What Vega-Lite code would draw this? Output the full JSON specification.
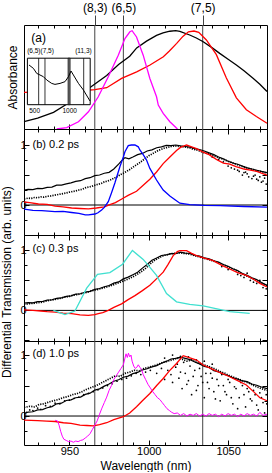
{
"$schema":"https://vega.github.io/schema/vega-lite/v6.json",
"background":"white",
"padding":{"left":0,"top":0,"right":1,"bottom":0},
"spacing":0,
"bounds":"flush",
"config":{"font":"Liberation Sans","view":{"stroke":"black","strokeWidth":1},
 "axis":{"domain":false,"grid":false,"labelFontSize":11,"titleFontSize":12,"titleFontWeight":"normal","tickColor":"black","labelColor":"black","titleColor":"black","labelOverlap":false,"labelFlush":false}},
"datasets":{
"lines":[{"w":966},{"w":984},{"w":1034}],
"aK":[{"w":921.4,"v":0.07},{"w":930,"v":0.105},{"w":940,"v":0.16},{"w":948,"v":0.235},{"w":955,"v":0.3},{"w":963,"v":0.4},{"w":973.5,"v":0.515},{"w":981,"v":0.62},{"w":988,"v":0.7},{"w":992.4,"v":0.78},{"w":998.6,"v":0.845},{"w":1004.9,"v":0.9},{"w":1009,"v":0.925},{"w":1013.3,"v":0.94},{"w":1017,"v":0.945},{"w":1019.6,"v":0.938},{"w":1025.8,"v":0.904},{"w":1030,"v":0.875},{"w":1034.3,"v":0.839},{"w":1040,"v":0.78},{"w":1044.7,"v":0.727},{"w":1050,"v":0.67},{"w":1055.2,"v":0.615},{"w":1060,"v":0.56},{"w":1065.7,"v":0.487},{"w":1070,"v":0.43},{"w":1074.5,"v":0.36}],
"aR":[{"w":921.4,"v":0.352},{"w":940,"v":0.36},{"w":955,"v":0.368},{"w":963,"v":0.375},{"w":966,"v":0.378},{"w":973.5,"v":0.397},{"w":982.9,"v":0.487},{"w":992.4,"v":0.55},{"w":1000.8,"v":0.615},{"w":1009.2,"v":0.695},{"w":1013,"v":0.75},{"w":1017.6,"v":0.823},{"w":1021.5,"v":0.89},{"w":1025,"v":0.935},{"w":1028.5,"v":0.942},{"w":1031.5,"v":0.93},{"w":1036.3,"v":0.856},{"w":1042.6,"v":0.715},{"w":1048.9,"v":0.49},{"w":1055.2,"v":0.3},{"w":1061.5,"v":0.185},{"w":1067.8,"v":0.12},{"w":1074.5,"v":0.055}],
"aM":[{"w":942,"v":0.0},{"w":948.3,"v":0.013},{"w":955.7,"v":0.07},{"w":962,"v":0.166},{"w":968.2,"v":0.31},{"w":974.5,"v":0.503},{"w":980.8,"v":0.71},{"w":985,"v":0.87},{"w":988.1,"v":0.935},{"w":989.5,"v":0.945},{"w":992.3,"v":0.885},{"w":996.5,"v":0.71},{"w":1000.7,"v":0.486},{"w":1004.9,"v":0.31},{"w":1006,"v":0.23},{"w":1009.1,"v":0.15},{"w":1013.3,"v":0.07},{"w":1018.1,"v":0.0}],
"ins":[{"w":419,"v":0.854},{"w":482,"v":0.781},{"w":529,"v":0.673},{"w":576,"v":0.639},{"w":625,"v":0.602},{"w":672,"v":0.531},{"w":743,"v":0.458},{"w":790,"v":0.437},{"w":862,"v":0.458},{"w":933,"v":0.495},{"w":982,"v":0.602},{"w":1019,"v":0.725},{"w":1053,"v":0.639},{"w":1125,"v":0.458},{"w":1196,"v":0.316},{"w":1290,"v":0.08}],
"insL":[{"w":557},{"w":647},{"w":1200}],
"insT":[{"w":500,"t":"500"},{"w":1000,"t":"1000"}],
"bK":[{"w":921.5,"v":0.25},{"w":924,"v":0.262},{"w":927,"v":0.258},{"w":930,"v":0.277},{"w":933,"v":0.272},{"w":936,"v":0.293},{"w":939,"v":0.298},{"w":942,"v":0.33},{"w":945,"v":0.333},{"w":948,"v":0.352},{"w":951,"v":0.37},{"w":954,"v":0.395},{"w":957,"v":0.405},{"w":960,"v":0.44},{"w":963,"v":0.455},{"w":966,"v":0.49},{"w":969,"v":0.5},{"w":972,"v":0.53},{"w":975,"v":0.545},{"w":978,"v":0.6},{"w":981,"v":0.68},{"w":983,"v":0.74},{"w":985,"v":0.79},{"w":987.5,"v":0.77},{"w":990,"v":0.8},{"w":993,"v":0.84},{"w":996,"v":0.86},{"w":999,"v":0.9},{"w":1002,"v":0.92},{"w":1005,"v":0.955},{"w":1008,"v":0.97},{"w":1011,"v":0.995},{"w":1014,"v":0.99},{"w":1017,"v":1.0},{"w":1020,"v":0.985},{"w":1023,"v":0.975},{"w":1026,"v":0.965},{"w":1029,"v":0.94},{"w":1032,"v":0.925},{"w":1035,"v":0.9},{"w":1038,"v":0.87},{"w":1041,"v":0.84},{"w":1044,"v":0.8},{"w":1047,"v":0.77},{"w":1050,"v":0.73},{"w":1053,"v":0.7},{"w":1056,"v":0.68},{"w":1059,"v":0.65},{"w":1062,"v":0.62},{"w":1065,"v":0.6},{"w":1068,"v":0.58},{"w":1071,"v":0.56},{"w":1074.5,"v":0.54}],
"bD":[{"w":921.5,"v":0.1},{"w":924,"v":0.115},{"w":926,"v":0.11},{"w":928,"v":0.125},{"w":930,"v":0.12},{"w":932,"v":0.135},{"w":934,"v":0.13},{"w":936,"v":0.145},{"w":938,"v":0.15},{"w":940,"v":0.16},{"w":942,"v":0.17},{"w":944,"v":0.18},{"w":946,"v":0.19},{"w":948,"v":0.2},{"w":950,"v":0.215},{"w":952,"v":0.225},{"w":954,"v":0.235},{"w":956,"v":0.25},{"w":958,"v":0.26},{"w":960,"v":0.285},{"w":962,"v":0.3},{"w":964,"v":0.31},{"w":966,"v":0.33},{"w":968,"v":0.345},{"w":970,"v":0.36},{"w":972,"v":0.385},{"w":974,"v":0.4},{"w":976,"v":0.42},{"w":978,"v":0.445},{"w":980,"v":0.47},{"w":982,"v":0.505},{"w":984,"v":0.53},{"w":986,"v":0.56},{"w":988,"v":0.59},{"w":990,"v":0.63},{"w":992,"v":0.665},{"w":994,"v":0.7},{"w":996,"v":0.74},{"w":998,"v":0.78},{"w":1000,"v":0.82},{"w":1002,"v":0.85},{"w":1004,"v":0.88},{"w":1006,"v":0.91},{"w":1008,"v":0.93},{"w":1010,"v":0.95},{"w":1012,"v":0.96},{"w":1014,"v":0.975},{"w":1016,"v":0.985},{"w":1018,"v":0.98},{"w":1020,"v":0.975},{"w":1022,"v":0.97},{"w":1024,"v":0.96},{"w":1026,"v":0.95},{"w":1028,"v":0.93},{"w":1030,"v":0.92},{"w":1032,"v":0.9},{"w":1034,"v":0.88},{"w":1036,"v":0.865},{"w":1038,"v":0.85},{"w":1040,"v":0.83},{"w":1042,"v":0.81},{"w":1044,"v":0.79},{"w":1046,"v":0.77},{"w":1048,"v":0.75},{"w":1050,"v":0.73},{"w":1052,"v":0.71},{"w":1054,"v":0.69},{"w":1056,"v":0.67},{"w":1058,"v":0.65},{"w":1060,"v":0.63},{"w":1062,"v":0.62},{"w":1064,"v":0.6},{"w":1066,"v":0.59},{"w":1068,"v":0.57},{"w":1070,"v":0.56},{"w":1072,"v":0.55},{"w":1074.5,"v":0.53}],
"bS":[{"w":1040,"v":0.8},{"w":1044,"v":0.76},{"w":1047,"v":0.72},{"w":1050,"v":0.65},{"w":1052,"v":0.62},{"w":1054,"v":0.6},{"w":1056,"v":0.58},{"w":1057,"v":0.56},{"w":1059,"v":0.5},{"w":1060,"v":0.54},{"w":1061,"v":0.55},{"w":1062,"v":0.52},{"w":1063,"v":0.47},{"w":1065,"v":0.44},{"w":1066,"v":0.48},{"w":1067,"v":0.5},{"w":1068,"v":0.43},{"w":1069,"v":0.41},{"w":1070,"v":0.47},{"w":1071,"v":0.38},{"w":1072,"v":0.4},{"w":1073,"v":0.45},{"w":1074,"v":0.35}],
"bR":[{"w":921.5,"v":0.05},{"w":925,"v":0.04},{"w":930.5,"v":0.017},{"w":936,"v":0.01},{"w":941,"v":-0.017},{"w":946,"v":-0.03},{"w":951.4,"v":-0.05},{"w":956.7,"v":-0.058},{"w":962,"v":-0.065},{"w":967,"v":-0.05},{"w":972,"v":-0.03},{"w":975.5,"v":0.005},{"w":979,"v":0.04},{"w":983,"v":0.1},{"w":987,"v":0.16},{"w":992.3,"v":0.23},{"w":996.5,"v":0.33},{"w":1000.7,"v":0.43},{"w":1004.9,"v":0.55},{"w":1009.1,"v":0.69},{"w":1013.3,"v":0.8},{"w":1017.5,"v":0.91},{"w":1020,"v":0.96},{"w":1023.8,"v":1.0},{"w":1027,"v":0.97},{"w":1030.1,"v":0.94},{"w":1034.3,"v":0.88},{"w":1038,"v":0.84},{"w":1042.6,"v":0.76},{"w":1047,"v":0.7},{"w":1051,"v":0.68},{"w":1055,"v":0.64},{"w":1060,"v":0.6},{"w":1064,"v":0.58},{"w":1068,"v":0.56},{"w":1071,"v":0.53},{"w":1074.5,"v":0.5}],
"bB":[{"w":921.5,"v":-0.07},{"w":927,"v":-0.09},{"w":932.6,"v":-0.095},{"w":940.9,"v":-0.11},{"w":946,"v":-0.105},{"w":951.4,"v":-0.125},{"w":956,"v":-0.14},{"w":960,"v":-0.165},{"w":962,"v":-0.165},{"w":966.1,"v":-0.15},{"w":968,"v":-0.13},{"w":970.3,"v":-0.083},{"w":972,"v":-0.04},{"w":974.5,"v":0.055},{"w":976.5,"v":0.2},{"w":978.7,"v":0.37},{"w":981.8,"v":0.638},{"w":984,"v":0.8},{"w":985,"v":0.888},{"w":987.1,"v":0.99},{"w":989,"v":1.0},{"w":991.3,"v":1.0},{"w":993.4,"v":0.97},{"w":994.4,"v":0.917},{"w":996.5,"v":0.84},{"w":998.6,"v":0.75},{"w":1000.7,"v":0.61},{"w":1004.9,"v":0.417},{"w":1007,"v":0.33},{"w":1009.1,"v":0.25},{"w":1013.3,"v":0.15},{"w":1017,"v":0.08},{"w":1019.6,"v":0.03},{"w":1025.8,"v":0.005},{"w":1035,"v":-0.005},{"w":1045,"v":-0.01},{"w":1060,"v":-0.025},{"w":1074.5,"v":-0.035}],
"cK":[{"w":921.5,"v":0.12},{"w":924,"v":0.13},{"w":927,"v":0.127},{"w":930,"v":0.145},{"w":933,"v":0.148},{"w":936,"v":0.17},{"w":939,"v":0.178},{"w":942,"v":0.2},{"w":945,"v":0.21},{"w":948,"v":0.235},{"w":951,"v":0.242},{"w":954,"v":0.27},{"w":957,"v":0.278},{"w":960,"v":0.305},{"w":963,"v":0.318},{"w":966,"v":0.35},{"w":969,"v":0.365},{"w":972,"v":0.395},{"w":975,"v":0.415},{"w":978,"v":0.455},{"w":981,"v":0.475},{"w":984,"v":0.525},{"w":987,"v":0.555},{"w":990,"v":0.595},{"w":993,"v":0.635},{"w":996,"v":0.705},{"w":999,"v":0.765},{"w":1002,"v":0.835},{"w":1005,"v":0.875},{"w":1008,"v":0.915},{"w":1011,"v":0.925},{"w":1014,"v":0.945},{"w":1017,"v":0.945},{"w":1020,"v":0.97},{"w":1023,"v":0.955},{"w":1026,"v":0.95},{"w":1029,"v":0.92},{"w":1032,"v":0.905},{"w":1035,"v":0.875},{"w":1038,"v":0.86},{"w":1041,"v":0.825},{"w":1044,"v":0.805},{"w":1047,"v":0.765},{"w":1050,"v":0.735},{"w":1053,"v":0.695},{"w":1056,"v":0.665},{"w":1059,"v":0.615},{"w":1062,"v":0.585},{"w":1065,"v":0.545},{"w":1068,"v":0.515},{"w":1071,"v":0.465},{"w":1074.5,"v":0.42}],
"cD":[{"w":921.5,"v":0.1},{"w":924,"v":0.11},{"w":926,"v":0.115},{"w":928,"v":0.12},{"w":930,"v":0.13},{"w":932,"v":0.135},{"w":934,"v":0.145},{"w":936,"v":0.16},{"w":938,"v":0.17},{"w":940,"v":0.18},{"w":942,"v":0.19},{"w":944,"v":0.2},{"w":946,"v":0.215},{"w":948,"v":0.225},{"w":950,"v":0.235},{"w":952,"v":0.25},{"w":954,"v":0.26},{"w":956,"v":0.27},{"w":958,"v":0.285},{"w":960,"v":0.295},{"w":962,"v":0.31},{"w":964,"v":0.325},{"w":966,"v":0.34},{"w":968,"v":0.35},{"w":970,"v":0.365},{"w":972,"v":0.38},{"w":974,"v":0.395},{"w":976,"v":0.41},{"w":978,"v":0.43},{"w":980,"v":0.45},{"w":982,"v":0.47},{"w":984,"v":0.49},{"w":986,"v":0.51},{"w":988,"v":0.535},{"w":990,"v":0.56},{"w":992,"v":0.59},{"w":994,"v":0.62},{"w":996,"v":0.66},{"w":998,"v":0.7},{"w":1000,"v":0.75},{"w":1002,"v":0.8},{"w":1004,"v":0.84},{"w":1006,"v":0.87},{"w":1008,"v":0.9},{"w":1010,"v":0.92},{"w":1012,"v":0.93},{"w":1014,"v":0.945},{"w":1016,"v":0.95},{"w":1018,"v":0.955},{"w":1020,"v":0.96},{"w":1022,"v":0.95},{"w":1024,"v":0.945},{"w":1026,"v":0.935},{"w":1028,"v":0.92},{"w":1030,"v":0.905},{"w":1032,"v":0.89},{"w":1034,"v":0.875},{"w":1036,"v":0.86},{"w":1038,"v":0.845},{"w":1040,"v":0.83},{"w":1042,"v":0.81},{"w":1044,"v":0.79},{"w":1046,"v":0.77},{"w":1048,"v":0.75},{"w":1050,"v":0.72},{"w":1052,"v":0.7},{"w":1054,"v":0.68},{"w":1056,"v":0.65},{"w":1058,"v":0.62},{"w":1060,"v":0.6},{"w":1062,"v":0.57},{"w":1064,"v":0.55},{"w":1066,"v":0.52},{"w":1068,"v":0.5},{"w":1070,"v":0.47},{"w":1072,"v":0.44},{"w":1074.5,"v":0.41}],
"cS":[{"w":1046,"v":0.73},{"w":1050,"v":0.68},{"w":1056,"v":0.6},{"w":1058,"v":0.58},{"w":1060,"v":0.55},{"w":1062,"v":0.62},{"w":1064,"v":0.5},{"w":1066,"v":0.47},{"w":1068,"v":0.45},{"w":1070,"v":0.5},{"w":1072,"v":0.38},{"w":1074,"v":0.36}],
"cR":[{"w":921.5,"v":0.01},{"w":927,"v":0.0},{"w":932,"v":-0.01},{"w":936,"v":-0.02},{"w":941,"v":-0.027},{"w":946,"v":-0.045},{"w":951.4,"v":-0.054},{"w":956.7,"v":-0.075},{"w":961.9,"v":-0.082},{"w":966,"v":-0.07},{"w":968.2,"v":-0.054},{"w":971,"v":-0.035},{"w":974.5,"v":0.0},{"w":978,"v":0.05},{"w":982.9,"v":0.11},{"w":987,"v":0.18},{"w":991.3,"v":0.247},{"w":996,"v":0.33},{"w":1000.7,"v":0.42},{"w":1005,"v":0.53},{"w":1009.1,"v":0.638},{"w":1012,"v":0.76},{"w":1015.4,"v":0.913},{"w":1018,"v":0.98},{"w":1019.6,"v":0.995},{"w":1023.8,"v":0.995},{"w":1027,"v":0.95},{"w":1030.1,"v":0.913},{"w":1035,"v":0.87},{"w":1040.6,"v":0.83},{"w":1046,"v":0.75},{"w":1051,"v":0.69},{"w":1056,"v":0.63},{"w":1061.5,"v":0.583},{"w":1066,"v":0.52},{"w":1070,"v":0.45},{"w":1074.5,"v":0.39}],
"cC":[{"w":939.9,"v":0.0},{"w":947.2,"v":-0.07},{"w":953.5,"v":-0.01},{"w":960.9,"v":0.37},{"w":967.7,"v":0.6},{"w":975.5,"v":0.63},{"w":983.5,"v":0.77},{"w":989.7,"v":1.0},{"w":996.5,"v":0.85},{"w":999.7,"v":0.75},{"w":1004.9,"v":0.583},{"w":1011.2,"v":0.28},{"w":1017.5,"v":0.143},{"w":1025.8,"v":0.099},{"w":1034.3,"v":0.077},{"w":1051,"v":-0.02},{"w":1063.6,"v":-0.049}],
"dK":[{"w":921.5,"v":0.04},{"w":924,"v":0.065},{"w":927,"v":0.07},{"w":930,"v":0.1},{"w":933,"v":0.105},{"w":936,"v":0.135},{"w":939,"v":0.155},{"w":942,"v":0.2},{"w":945,"v":0.21},{"w":948,"v":0.255},{"w":951,"v":0.265},{"w":954,"v":0.3},{"w":957,"v":0.31},{"w":960,"v":0.355},{"w":963,"v":0.375},{"w":966,"v":0.425},{"w":969,"v":0.445},{"w":972,"v":0.49},{"w":975,"v":0.525},{"w":978,"v":0.57},{"w":981,"v":0.595},{"w":984,"v":0.635},{"w":987,"v":0.655},{"w":990,"v":0.695},{"w":993,"v":0.715},{"w":996,"v":0.755},{"w":999,"v":0.775},{"w":1002,"v":0.805},{"w":1005,"v":0.825},{"w":1008,"v":0.865},{"w":1011,"v":0.895},{"w":1014,"v":0.935},{"w":1017,"v":0.945},{"w":1020,"v":0.965},{"w":1023,"v":0.945},{"w":1026,"v":0.925},{"w":1029,"v":0.885},{"w":1032,"v":0.855},{"w":1035,"v":0.815},{"w":1038,"v":0.795},{"w":1041,"v":0.745},{"w":1044,"v":0.725},{"w":1047,"v":0.685},{"w":1050,"v":0.665},{"w":1053,"v":0.625},{"w":1056,"v":0.605},{"w":1059,"v":0.575},{"w":1062,"v":0.565},{"w":1065,"v":0.525},{"w":1068,"v":0.505},{"w":1071,"v":0.475},{"w":1074.5,"v":0.45}],
"dD":[{"w":921.5,"v":0.14},{"w":925,"v":0.16},{"w":928,"v":0.15},{"w":931,"v":0.19},{"w":934,"v":0.2},{"w":937,"v":0.23},{"w":940,"v":0.25},{"w":943,"v":0.27},{"w":946,"v":0.3},{"w":949,"v":0.32},{"w":952,"v":0.35},{"w":955,"v":0.37},{"w":958,"v":0.4},{"w":961,"v":0.44},{"w":964,"v":0.47},{"w":967,"v":0.5},{"w":970,"v":0.54},{"w":973,"v":0.58},{"w":976,"v":0.62},{"w":979,"v":0.66},{"w":982,"v":0.65},{"w":985,"v":0.7},{"w":988,"v":0.72},{"w":991,"v":0.75},{"w":994,"v":0.74},{"w":997,"v":0.78},{"w":1000,"v":0.8},{"w":1003,"v":0.82},{"w":1006,"v":0.85},{"w":1009,"v":0.88},{"w":1012,"v":0.9},{"w":1015,"v":0.92},{"w":1018,"v":0.95},{"w":1021,"v":0.93},{"w":1024,"v":0.9},{"w":1027,"v":0.92},{"w":1030,"v":0.88},{"w":1033,"v":0.85},{"w":1036,"v":0.83},{"w":1039,"v":0.8},{"w":1042,"v":0.77},{"w":1045,"v":0.73},{"w":1048,"v":0.7},{"w":1051,"v":0.66},{"w":1054,"v":0.63},{"w":1057,"v":0.6},{"w":1060,"v":0.57},{"w":1063,"v":0.54},{"w":1066,"v":0.5},{"w":1069,"v":0.47},{"w":1072,"v":0.44},{"w":1074.5,"v":0.42}],
"dS":[{"w":923,"v":0.06},{"w":925,"v":0.1},{"w":927,"v":0.09},{"w":930,"v":0.13},{"w":932,"v":0.11},{"w":935,"v":0.17},{"w":938,"v":0.16},{"w":941,"v":0.21},{"w":944,"v":0.2},{"w":947,"v":0.25},{"w":950,"v":0.26},{"w":953,"v":0.29},{"w":956,"v":0.31},{"w":959,"v":0.35},{"w":962,"v":0.37},{"w":965,"v":0.4},{"w":968,"v":0.43},{"w":971,"v":0.46},{"w":974,"v":0.5},{"w":977,"v":0.53},{"w":980,"v":0.57},{"w":983,"v":0.6},{"w":986,"v":0.62},{"w":989,"v":0.66},{"w":992,"v":0.7},{"w":995,"v":0.68},{"w":998,"v":0.72},{"w":1001,"v":0.75},{"w":1005,"v":0.7},{"w":1008,"v":0.78},{"w":1010,"v":0.95},{"w":1010,"v":0.6},{"w":1012,"v":0.75},{"w":1014,"v":0.68},{"w":1015,"v":1.0},{"w":1015,"v":0.55},{"w":1017,"v":0.8},{"w":1018,"v":0.85},{"w":1019,"v":0.62},{"w":1020,"v":0.98},{"w":1020,"v":0.72},{"w":1021,"v":0.45},{"w":1022,"v":0.88},{"w":1023,"v":0.7},{"w":1024,"v":0.52},{"w":1025,"v":0.97},{"w":1025,"v":0.58},{"w":1026,"v":0.82},{"w":1027,"v":0.35},{"w":1028,"v":0.65},{"w":1029,"v":0.75},{"w":1030,"v":0.92},{"w":1030,"v":0.42},{"w":1031,"v":0.5},{"w":1032,"v":0.78},{"w":1033,"v":0.65},{"w":1034,"v":0.55},{"w":1035,"v":0.9},{"w":1035,"v":0.3},{"w":1036,"v":0.7},{"w":1037,"v":0.55},{"w":1038,"v":0.45},{"w":1039,"v":0.7},{"w":1040,"v":0.85},{"w":1040,"v":0.62},{"w":1041,"v":0.4},{"w":1042,"v":0.28},{"w":1043,"v":0.6},{"w":1044,"v":0.5},{"w":1045,"v":0.25},{"w":1046,"v":0.68},{"w":1047,"v":0.5},{"w":1048,"v":0.4},{"w":1049,"v":0.35},{"w":1050,"v":0.6},{"w":1051,"v":0.55},{"w":1052,"v":0.3},{"w":1053,"v":0.2},{"w":1054,"v":0.48},{"w":1055,"v":0.45},{"w":1056,"v":0.12},{"w":1057,"v":0.3},{"w":1058,"v":0.55},{"w":1059,"v":0.5},{"w":1060,"v":0.35},{"w":1061,"v":0.15},{"w":1062,"v":0.45},{"w":1063,"v":0.4},{"w":1064,"v":0.28},{"w":1065,"v":0.25},{"w":1066,"v":0.42},{"w":1067,"v":0.35},{"w":1068,"v":0.18},{"w":1069,"v":0.1},{"w":1070,"v":0.38},{"w":1071,"v":0.3},{"w":1072,"v":0.22},{"w":1073,"v":0.05},{"w":1074,"v":0.35},{"w":1074.3,"v":0.2}],
"dR":[{"w":921.5,"v":-0.066},{"w":930,"v":-0.075},{"w":935.7,"v":-0.082},{"w":941,"v":-0.09},{"w":946.2,"v":-0.11},{"w":951,"v":-0.12},{"w":956.7,"v":-0.148},{"w":961,"v":-0.155},{"w":965.1,"v":-0.16},{"w":969,"v":-0.14},{"w":973.5,"v":-0.11},{"w":978,"v":-0.06},{"w":984,"v":-0.011},{"w":988,"v":0.05},{"w":992.3,"v":0.152},{"w":996,"v":0.25},{"w":1000.7,"v":0.37},{"w":1005,"v":0.5},{"w":1009.1,"v":0.616},{"w":1013,"v":0.74},{"w":1017.5,"v":0.862},{"w":1021.7,"v":0.989},{"w":1025,"v":0.96},{"w":1030.1,"v":0.918},{"w":1034.3,"v":0.836},{"w":1040,"v":0.77},{"w":1045,"v":0.71},{"w":1051,"v":0.644},{"w":1056,"v":0.58},{"w":1061.5,"v":0.508},{"w":1066,"v":0.4},{"w":1070,"v":0.3},{"w":1074.5,"v":0.25}],
"dM":[{"w":941,"v":-0.07},{"w":942.5,"v":-0.08},{"w":943.5,"v":-0.15},{"w":944.5,"v":-0.25},{"w":945.5,"v":-0.33},{"w":946.5,"v":-0.38},{"w":948,"v":-0.4},{"w":949.5,"v":-0.42},{"w":951,"v":-0.41},{"w":952.5,"v":-0.43},{"w":954,"v":-0.41},{"w":955.5,"v":-0.42},{"w":957,"v":-0.4},{"w":958.5,"v":-0.39},{"w":960,"v":-0.36},{"w":961.5,"v":-0.33},{"w":963,"v":-0.29},{"w":964.5,"v":-0.22},{"w":966,"v":-0.15},{"w":967.5,"v":-0.08},{"w":969,"v":0.03},{"w":970.5,"v":0.13},{"w":972,"v":0.22},{"w":973.5,"v":0.31},{"w":975,"v":0.42},{"w":976.5,"v":0.5},{"w":978,"v":0.6},{"w":979.5,"v":0.66},{"w":981,"v":0.72},{"w":982.5,"v":0.78},{"w":984,"v":0.84},{"w":985,"v":0.95},{"w":985.7,"v":1.02},{"w":986.5,"v":0.96},{"w":987.2,"v":1.03},{"w":988,"v":0.97},{"w":988.8,"v":1.0},{"w":989.5,"v":0.9},{"w":990.5,"v":0.82},{"w":991.5,"v":0.78},{"w":992.5,"v":0.8},{"w":993.4,"v":0.84},{"w":994.4,"v":0.8},{"w":995.5,"v":0.76},{"w":996.5,"v":0.68},{"w":998,"v":0.6},{"w":999.5,"v":0.52},{"w":1001,"v":0.46},{"w":1002.5,"v":0.4},{"w":1004,"v":0.35},{"w":1005.5,"v":0.3},{"w":1007,"v":0.27},{"w":1008.5,"v":0.22},{"w":1010,"v":0.17},{"w":1011.5,"v":0.12},{"w":1013,"v":0.09},{"w":1014.5,"v":0.06},{"w":1016,"v":0.04},{"w":1018,"v":0.05},{"w":1020,"v":0.01},{"w":1022,"v":0.04},{"w":1024,"v":0.0},{"w":1026,"v":0.03},{"w":1028,"v":0.01},{"w":1030,"v":0.04},{"w":1032,"v":0.0},{"w":1034,"v":0.03},{"w":1036,"v":0.0},{"w":1038,"v":0.04},{"w":1040,"v":0.01},{"w":1042,"v":0.03},{"w":1044,"v":-0.01},{"w":1046,"v":0.03},{"w":1048,"v":0.0},{"w":1050,"v":0.04},{"w":1052,"v":0.01},{"w":1054,"v":0.03},{"w":1056,"v":-0.01},{"w":1058,"v":0.03},{"w":1060,"v":0.0},{"w":1062,"v":0.04},{"w":1064,"v":0.01},{"w":1066,"v":0.03},{"w":1068,"v":0.0},{"w":1070,"v":0.06},{"w":1072,"v":0.01},{"w":1074.5,"v":0.03}]
},
"vconcat":[
{"width":243,"height":104,
 "layer":[
  {"layer":[
    {"data":{"name":"lines"},"mark":{"type":"rule","color":"#444","strokeWidth":1},
     "encoding":{"x":{"field":"w","type":"quantitative","scale":{"domain":[921.4,1074.5],"nice":false,"zero":false},
       "axis":{"orient":"top","title":null,"values":[930,940,950,960,966,970,980,984,990,1000,1010,1020,1030,1034,1040,1050,1060,1070],
        "tickSize":{"condition":{"test":"datum.value === 966 || datum.value === 984 || datum.value === 1034","value":10},"value":-3},
        "tickColor":{"condition":{"test":"datum.value === 966 || datum.value === 984 || datum.value === 1034","value":"#444"},"value":"black"},
        "labelExpr":"datum.value === 966 ? '(8,3)' : datum.value === 984 ? '(6,5)' : datum.value === 1034 ? '(7,5)' : ''",
        "labelFontSize":12,"labelPadding":1}}}},
    {"data":{"name":"aK"},"mark":{"type":"line","color":"black","strokeWidth":1.3},
     "encoding":{"x":{"field":"w","type":"quantitative","axis":{"orient":"bottom","title":null,"labels":false,"values":[930,940,950,960,970,980,990,1000,1010,1020,1030,1040,1050,1060,1070],"tickSize":{"condition":{"test":"datum.value % 50 === 0","value":-5},"value":-3}}},
      "y":{"field":"v","type":"quantitative","scale":{"domain":[0,1],"nice":false,"zero":false},"axis":{"orient":"left","ticks":false,"labels":false,"title":"Absorbance","titlePadding":5}}}},
    {"data":{"name":"aR"},"mark":{"type":"line","color":"#ff0000","strokeWidth":1.3},
     "encoding":{"x":{"field":"w","type":"quantitative","axis":null},"y":{"field":"v","type":"quantitative","axis":null}}},
    {"data":{"name":"aM"},"mark":{"type":"line","color":"#ff00ff","strokeWidth":1.3},
     "encoding":{"x":{"field":"w","type":"quantitative","axis":null},"y":{"field":"v","type":"quantitative","axis":null}}},
    {"data":{"values":[{}]},"mark":{"type":"text","text":"(a)","align":"left","baseline":"middle","fontSize":12},
     "encoding":{"x":{"datum":926,"type":"quantitative","axis":null},"y":{"datum":0.878,"type":"quantitative","axis":null}}}
   ],
   "resolve":{"axis":{"x":"independent","y":"independent"}}},
  {"layer":[
    {"data":{"values":[{}]},"mark":{"type":"rect","fill":"white","stroke":"black","strokeWidth":1},
     "encoding":{"x":{"datum":396,"type":"quantitative","scale":{"domain":[396,1293],"range":[3.4,66.2],"nice":false,"zero":false},"axis":null},
      "x2":{"datum":1293},
      "y":{"datum":0,"type":"quantitative","scale":{"domain":[0,1],"range":[79.7,33.2],"nice":false,"zero":false},"axis":null},
      "y2":{"datum":1}}},
    {"data":{"values":[{}]},"mark":{"type":"rect","fill":"#777","stroke":"black","strokeWidth":0.7},
     "encoding":{"x":{"datum":977,"type":"quantitative","axis":null},"x2":{"datum":1006},"y":{"datum":0,"type":"quantitative","axis":null},"y2":{"datum":1}}},
    {"data":{"name":"insL"},"mark":{"type":"rule","color":"black","strokeWidth":0.8},
     "encoding":{"x":{"field":"w","type":"quantitative","axis":null},"y":{"datum":0,"type":"quantitative","axis":null},"y2":{"datum":1}}},
    {"data":{"name":"ins"},"mark":{"type":"line","color":"black","strokeWidth":1},
     "encoding":{"x":{"field":"w","type":"quantitative","axis":null},"y":{"field":"v","type":"quantitative","axis":null}}},
    {"data":{"name":"insT"},"mark":{"type":"text","fontSize":6.5,"align":"center","baseline":"middle"},
     "encoding":{"x":{"field":"w","type":"quantitative","axis":null},"y":{"datum":-0.13,"type":"quantitative","axis":null},"text":{"field":"t"}}},
    {"data":{"values":[{}]},"mark":{"type":"text","text":"(6,5)(7,5)","fontSize":6.5,"align":"center","baseline":"middle"},
     "encoding":{"x":{"datum":583,"type":"quantitative","axis":null},"y":{"datum":1.16,"type":"quantitative","axis":null}}},
    {"data":{"values":[{}]},"mark":{"type":"text","text":"(11,3)","fontSize":6.5,"align":"center","baseline":"middle"},
     "encoding":{"x":{"datum":1196,"type":"quantitative","axis":null},"y":{"datum":1.16,"type":"quantitative","axis":null}}}
   ]}
 ],
 "resolve":{"scale":{"x":"independent","y":"independent"}}
},
{"width":243,"height":106,
 "layer":[
  {"data":{"name":"lines"},"mark":{"type":"rule","color":"#444","strokeWidth":1},
   "encoding":{"x":{"field":"w","type":"quantitative","scale":{"domain":[921.4,1074.5],"nice":false,"zero":false},
     "axis":{"orient":"top","title":null,"labels":false,"values":[930,940,950,960,970,980,990,1000,1010,1020,1030,1040,1050,1060,1070],"tickSize":{"condition":{"test":"datum.value % 50 === 0","value":-5},"value":-3}}}}},
  {"data":{"values":[{}]},"mark":{"type":"rule","color":"black","strokeWidth":1},
   "encoding":{"y":{"datum":0,"type":"quantitative","scale":{"domain":[-0.5,1.267],"nice":false,"zero":false},
     "axis":{"orient":"right","title":null,"labels":false,"values":[-0.5,-0.25,0,0.25,0.5,0.75,1],"tickSize":{"condition":{"test":"datum.value % 0.5 === 0","value":-5},"value":-3}}}}},
  {"data":{"name":"bD"},"mark":{"type":"line","color":"black","strokeWidth":1.7,"strokeDash":[1.2,1.2]},
   "encoding":{"x":{"field":"w","type":"quantitative","axis":null},"y":{"field":"v","type":"quantitative","axis":null}}},
  {"data":{"name":"bS"},"mark":{"type":"point","filled":true,"size":3,"color":"black","opacity":1},
   "encoding":{"x":{"field":"w","type":"quantitative","axis":null},"y":{"field":"v","type":"quantitative","axis":null}}},
  {"data":{"name":"bK"},"mark":{"type":"line","color":"black","strokeWidth":1.2},
   "encoding":{"x":{"field":"w","type":"quantitative","axis":null},"y":{"field":"v","type":"quantitative","axis":null}}},
  {"data":{"name":"bR"},"mark":{"type":"line","color":"#ff0000","strokeWidth":1.3},
   "encoding":{"x":{"field":"w","type":"quantitative","axis":{"orient":"bottom","title":null,"labels":false,"values":[930,940,950,960,970,980,990,1000,1010,1020,1030,1040,1050,1060,1070],"tickSize":{"condition":{"test":"datum.value % 50 === 0","value":-5},"value":-3}}},
    "y":{"field":"v","type":"quantitative","axis":{"orient":"left","title":null,"values":[-0.5,-0.25,0,0.25,0.5,0.75,1],"tickSize":{"condition":{"test":"datum.value % 0.5 === 0","value":-5},"value":-3},"labelExpr":"datum.value === 0 ? '0' : datum.value === 1 ? '1' : ''","labelPadding":3}}}},
  {"data":{"name":"bB"},"mark":{"type":"line","color":"#0000ff","strokeWidth":1.3},
   "encoding":{"x":{"field":"w","type":"quantitative","axis":null},"y":{"field":"v","type":"quantitative","axis":null}}},
  {"data":{"values":[{}]},"mark":{"type":"text","text":"(b) 0.2 ps","align":"left","baseline":"middle","fontSize":11},
   "encoding":{"x":{"datum":926.8,"type":"quantitative","axis":null},"y":{"datum":1,"type":"quantitative","axis":null}}}
 ],
 "resolve":{"axis":{"x":"independent","y":"independent"}}
},
{"width":243,"height":106,
 "layer":[
  {"data":{"name":"lines"},"mark":{"type":"rule","color":"#444","strokeWidth":1},
   "encoding":{"x":{"field":"w","type":"quantitative","scale":{"domain":[921.4,1074.5],"nice":false,"zero":false},
     "axis":{"orient":"top","title":null,"labels":false,"values":[930,940,950,960,970,980,990,1000,1010,1020,1030,1040,1050,1060,1070],"tickSize":{"condition":{"test":"datum.value % 50 === 0","value":-5},"value":-3}}}}},
  {"data":{"values":[{}]},"mark":{"type":"rule","color":"black","strokeWidth":1},
   "encoding":{"y":{"datum":0,"type":"quantitative","scale":{"domain":[-0.51,1.257],"nice":false,"zero":false},
     "axis":{"orient":"right","title":null,"labels":false,"values":[-0.5,-0.25,0,0.25,0.5,0.75,1],"tickSize":{"condition":{"test":"datum.value % 0.5 === 0","value":-5},"value":-3}}}}},
  {"data":{"name":"cD"},"mark":{"type":"line","color":"black","strokeWidth":1.7,"strokeDash":[1.2,1.2]},
   "encoding":{"x":{"field":"w","type":"quantitative","axis":null},"y":{"field":"v","type":"quantitative","axis":null}}},
  {"data":{"name":"cS"},"mark":{"type":"point","filled":true,"size":3,"color":"black","opacity":1},
   "encoding":{"x":{"field":"w","type":"quantitative","axis":null},"y":{"field":"v","type":"quantitative","axis":null}}},
  {"data":{"name":"cK"},"mark":{"type":"line","color":"black","strokeWidth":1.2},
   "encoding":{"x":{"field":"w","type":"quantitative","axis":null},"y":{"field":"v","type":"quantitative","axis":null}}},
  {"data":{"name":"cR"},"mark":{"type":"line","color":"#ff0000","strokeWidth":1.3},
   "encoding":{"x":{"field":"w","type":"quantitative","axis":{"orient":"bottom","title":null,"labels":false,"values":[930,940,950,960,970,980,990,1000,1010,1020,1030,1040,1050,1060,1070],"tickSize":{"condition":{"test":"datum.value % 50 === 0","value":-5},"value":-3}}},
    "y":{"field":"v","type":"quantitative","axis":{"orient":"left","title":"Differential Transmission (arb. units)","titlePadding":6,"titleY":46.7,"values":[-0.5,-0.25,0,0.25,0.5,0.75,1],"tickSize":{"condition":{"test":"datum.value % 0.5 === 0","value":-5},"value":-3},"labelExpr":"datum.value === 0 ? '0' : datum.value === 1 ? '1' : ''","labelPadding":3}}}},
  {"data":{"name":"cC"},"mark":{"type":"line","color":"#40e0d0","strokeWidth":1.3},
   "encoding":{"x":{"field":"w","type":"quantitative","axis":null},"y":{"field":"v","type":"quantitative","axis":null}}},
  {"data":{"values":[{}]},"mark":{"type":"text","text":"(c) 0.3 ps","align":"left","baseline":"middle","fontSize":11},
   "encoding":{"x":{"datum":926.8,"type":"quantitative","axis":null},"y":{"datum":1.03,"type":"quantitative","axis":null}}}
 ],
 "resolve":{"axis":{"x":"independent","y":"independent"}}
},
{"width":243,"height":104,
 "layer":[
  {"data":{"name":"lines"},"mark":{"type":"rule","color":"#444","strokeWidth":1},
   "encoding":{"x":{"field":"w","type":"quantitative","scale":{"domain":[921.4,1074.5],"nice":false,"zero":false},
     "axis":{"orient":"top","title":null,"labels":false,"values":[930,940,950,960,970,980,990,1000,1010,1020,1030,1040,1050,1060,1070],"tickSize":{"condition":{"test":"datum.value % 50 === 0","value":-5},"value":-3}}}}},
  {"data":{"values":[{}]},"mark":{"type":"rule","color":"black","strokeWidth":1},
   "encoding":{"y":{"datum":0,"type":"quantitative","scale":{"domain":[-0.475,1.23],"nice":false,"zero":false},
     "axis":{"orient":"right","title":null,"labels":false,"values":[-0.25,0,0.25,0.5,0.75,1],"tickSize":{"condition":{"test":"datum.value % 0.5 === 0","value":-5},"value":-3}}}}},
  {"data":{"name":"dD"},"mark":{"type":"line","color":"black","strokeWidth":1.7,"strokeDash":[1.2,1.2]},
   "encoding":{"x":{"field":"w","type":"quantitative","axis":null},"y":{"field":"v","type":"quantitative","axis":null}}},
  {"data":{"name":"dS"},"mark":{"type":"point","filled":true,"size":3,"color":"black","opacity":1},
   "encoding":{"x":{"field":"w","type":"quantitative","axis":null},"y":{"field":"v","type":"quantitative","axis":null}}},
  {"data":{"name":"dK"},"mark":{"type":"line","color":"black","strokeWidth":1.2},
   "encoding":{"x":{"field":"w","type":"quantitative","axis":null},"y":{"field":"v","type":"quantitative","axis":null}}},
  {"data":{"name":"dR"},"mark":{"type":"line","color":"#ff0000","strokeWidth":1.3},
   "encoding":{"x":{"field":"w","type":"quantitative","axis":{"orient":"bottom","title":"Wavelength (nm)","titlePadding":2,"values":[930,940,950,960,970,980,990,1000,1010,1020,1030,1040,1050,1060,1070],"tickSize":{"condition":{"test":"datum.value % 50 === 0","value":-5},"value":-3},"labelExpr":"datum.value % 50 === 0 ? '' + datum.value : ''","labelPadding":5}},
    "y":{"field":"v","type":"quantitative","axis":{"orient":"left","title":null,"values":[-0.25,0,0.25,0.5,0.75,1],"tickSize":{"condition":{"test":"datum.value % 0.5 === 0","value":-5},"value":-3},"labelExpr":"datum.value === 0 ? '0' : datum.value === 1 ? '1' : ''","labelPadding":3}}}},
  {"data":{"name":"dM"},"mark":{"type":"line","color":"#ff00ff","strokeWidth":1},
   "encoding":{"x":{"field":"w","type":"quantitative","axis":null},"y":{"field":"v","type":"quantitative","axis":null}}},
  {"data":{"values":[{}]},"mark":{"type":"text","text":"(d) 1.0 ps","align":"left","baseline":"middle","fontSize":11},
   "encoding":{"x":{"datum":926.8,"type":"quantitative","axis":null},"y":{"datum":1.01,"type":"quantitative","axis":null}}}
 ],
 "resolve":{"axis":{"x":"independent","y":"independent"}}
}
]
}
